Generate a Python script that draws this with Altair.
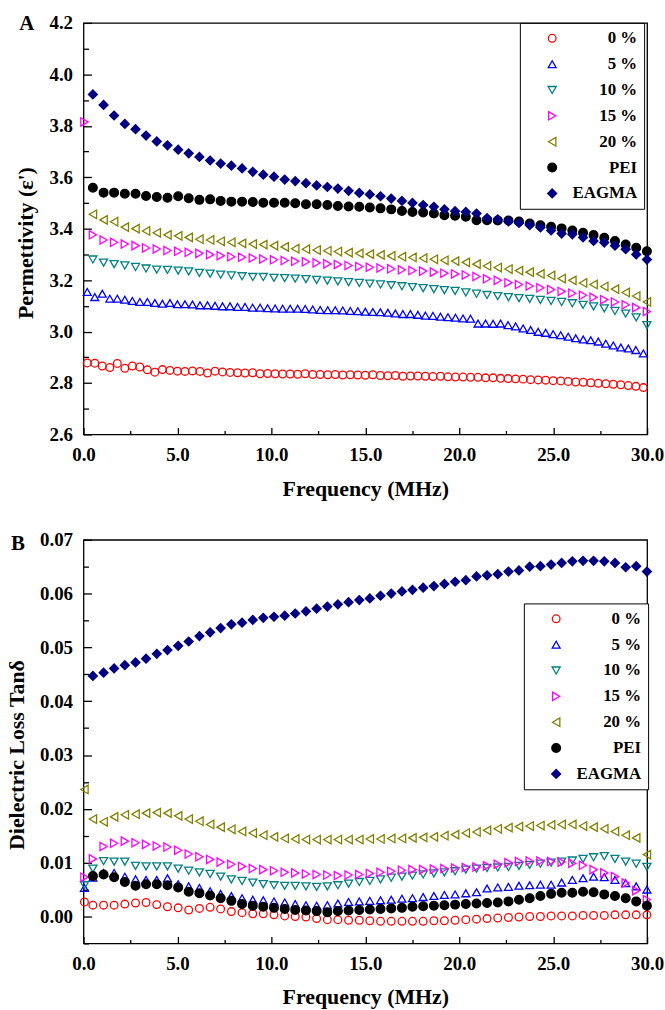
import altair as alt
import pandas as pd

SERIES = ["0 %", "5 %", "10 %", "15 %", "20 %", "PEI", "EAGMA"]
COLORS = ["#FF0000", "#0000FF", "#008080", "#FF00FF", "#808000", "#000000", "#000080"]
FILLS = ["transparent", "transparent", "transparent", "transparent", "transparent", "#000000", "#000080"]
SHAPES = ["circle", "triangle-up", "triangle-down", "triangle-right", "triangle-left", "circle", "diamond"]
SIZES = [60, 80, 90, 80, 80, 70, 95]

X_MAIN = [0.50, 1.07, 1.63, 2.20, 2.77, 3.33, 3.90, 4.47, 5.04, 5.60, 6.17, 6.74, 7.30, 7.87,
          8.44, 9.01, 9.57, 10.14, 10.71, 11.27, 11.84, 12.41, 12.98, 13.54, 14.11, 14.68,
          15.24, 15.81, 16.38, 16.95, 17.51, 18.08, 18.65, 19.21, 19.78, 20.35, 20.92, 21.48,
          22.05, 22.62, 23.18, 23.75, 24.32, 24.89, 25.45, 26.02, 26.59, 27.15, 27.72, 28.29,
          28.86, 29.42, 29.99]
X_DENSE = [0.2, 0.6, 1.0, 1.4, 1.8, 2.2, 2.6, 3.0, 3.4, 3.8, 4.2, 4.6, 5.0, 5.4, 5.8, 6.2, 6.6,
           7.0, 7.4, 7.8, 8.2, 8.6, 9.0, 9.4, 9.8, 10.2, 10.6, 11.0, 11.4, 11.8, 12.2, 12.6,
           13.0, 13.4, 13.8, 14.2, 14.6, 15.0, 15.4, 15.8, 16.2, 16.6, 17.0, 17.4, 17.8, 18.2,
           18.6, 19.0, 19.4, 19.8, 20.2, 20.6, 21.0, 21.4, 21.8, 22.2, 22.6, 23.0, 23.4, 23.8,
           24.2, 24.6, 25.0, 25.4, 25.8, 26.2, 26.6, 27.0, 27.4, 27.8, 28.2, 28.6, 29.0, 29.4, 29.8]
EDGE_X = 0.05

# Panel A: permittivity
A_0 = [2.878, 2.877, 2.866, 2.860, 2.876, 2.857, 2.866, 2.862, 2.851, 2.842,
       2.852, 2.849, 2.846, 2.845, 2.847, 2.845, 2.839, 2.846, 2.843, 2.841,
       2.840, 2.839, 2.840, 2.836, 2.837, 2.836, 2.835, 2.835, 2.834, 2.836,
       2.833, 2.833, 2.832, 2.833, 2.831, 2.832, 2.831, 2.830, 2.832, 2.829,
       2.828, 2.829, 2.826, 2.827, 2.827, 2.826, 2.825, 2.826, 2.824, 2.823,
       2.823, 2.822, 2.822, 2.820, 2.820, 2.818, 2.817, 2.816, 2.815, 2.813,
       2.812, 2.811, 2.809, 2.808, 2.806, 2.804, 2.803, 2.801, 2.799, 2.797,
       2.795, 2.793, 2.790, 2.787, 2.782]
A_5 = [3.154, 3.134, 3.147, 3.128, 3.128, 3.124, 3.119, 3.115, 3.115, 3.111,
       3.108, 3.111, 3.106, 3.106, 3.105, 3.102, 3.102, 3.100, 3.098, 3.098,
       3.096, 3.096, 3.093, 3.093, 3.091, 3.090, 3.089, 3.089, 3.089, 3.088,
       3.086, 3.084, 3.083, 3.083, 3.082, 3.080, 3.079, 3.077, 3.076, 3.075,
       3.073, 3.070, 3.068, 3.068, 3.065, 3.062, 3.061, 3.058, 3.056, 3.054,
       3.051, 3.050, 3.031, 3.031, 3.030, 3.031, 3.025, 3.020, 3.012, 3.006,
       2.999, 2.995, 2.990, 2.986, 2.980, 2.974, 2.969, 2.966, 2.961, 2.953,
       2.946, 2.938, 2.934, 2.928, 2.915]
A_10 = [3.280, 3.268, 3.262, 3.257, 3.251, 3.245, 3.241, 3.240, 3.237, 3.234,
        3.228, 3.225, 3.221, 3.218, 3.215, 3.212, 3.212, 3.209, 3.208, 3.206,
        3.204, 3.201, 3.198, 3.195, 3.192, 3.189, 3.186, 3.183, 3.180, 3.176,
        3.173, 3.169, 3.165, 3.161, 3.158, 3.152, 3.147, 3.142, 3.138, 3.134,
        3.130, 3.127, 3.123, 3.119, 3.115, 3.110, 3.104, 3.098, 3.090, 3.080,
        3.070, 3.055, 3.025]
A_15 = [3.376, 3.356, 3.347, 3.340, 3.334, 3.325, 3.321, 3.315, 3.312, 3.308,
        3.304, 3.299, 3.295, 3.291, 3.289, 3.286, 3.282, 3.279, 3.276, 3.273,
        3.271, 3.267, 3.263, 3.261, 3.257, 3.253, 3.250, 3.247, 3.244, 3.240,
        3.237, 3.235, 3.231, 3.227, 3.224, 3.220, 3.214, 3.205, 3.199, 3.190,
        3.183, 3.177, 3.170, 3.163, 3.156, 3.149, 3.141, 3.133, 3.124, 3.115,
        3.104, 3.093, 3.078]
A_20 = [3.456, 3.434, 3.427, 3.406, 3.400, 3.391, 3.384, 3.376, 3.372, 3.366,
        3.359, 3.356, 3.351, 3.347, 3.343, 3.340, 3.338, 3.334, 3.329, 3.322,
        3.320, 3.317, 3.314, 3.311, 3.307, 3.304, 3.301, 3.298, 3.294, 3.291,
        3.288, 3.285, 3.281, 3.277, 3.274, 3.269, 3.262, 3.255, 3.249, 3.243,
        3.237, 3.231, 3.224, 3.218, 3.206, 3.199, 3.189, 3.183, 3.175, 3.165,
        3.152, 3.138, 3.115]
A_PEI = [3.559, 3.540, 3.540, 3.536, 3.536, 3.527, 3.523, 3.520, 3.526, 3.518,
         3.512, 3.514, 3.508, 3.505, 3.505, 3.504, 3.501, 3.501, 3.501, 3.499,
         3.495, 3.495, 3.492, 3.488, 3.486, 3.485, 3.482, 3.479, 3.475, 3.469,
         3.465, 3.463, 3.459, 3.452, 3.450, 3.446, 3.433, 3.433, 3.432, 3.432,
         3.428, 3.420, 3.413, 3.407, 3.401, 3.393, 3.384, 3.375, 3.365, 3.352,
         3.338, 3.326, 3.312]
A_EAGMA = [3.922, 3.881, 3.840, 3.807, 3.787, 3.762, 3.739, 3.724, 3.707, 3.693,
           3.679, 3.665, 3.653, 3.645, 3.634, 3.621, 3.610, 3.602, 3.591, 3.585,
           3.577, 3.568, 3.562, 3.556, 3.547, 3.539, 3.533, 3.526, 3.517, 3.508,
           3.500, 3.492, 3.485, 3.475, 3.468, 3.465, 3.459, 3.441, 3.436, 3.428,
           3.422, 3.414, 3.405, 3.393, 3.381, 3.378, 3.366, 3.352, 3.346, 3.334,
           3.320, 3.300, 3.280]
A_EDGE = {"15 %": 3.815}

# Panel B: dielectric loss tan(delta)
B_0 = [0.0021, 0.0021, 0.0021, 0.0023, 0.0025, 0.0026, 0.0022, 0.0018, 0.0016, 0.0012,
       0.0015, 0.0017, 0.0014, 0.0009, 0.0007, 0.0005, 0.0005, 0.0003, 0.0001, 0.0000,
       -0.0001, -0.0004, -0.0006, -0.0006, -0.0007, -0.0007, -0.0008, -0.0009, -0.0009, -0.0009,
       -0.0009, -0.0009, -0.0008, -0.0008, -0.0007, -0.0006, -0.0005, -0.0004, -0.0003, -0.0002,
       -0.0001, 0.0000, 0.0000, 0.0001, 0.0001, 0.0001, 0.0002, 0.0002, 0.0002, 0.0003,
       0.0003, 0.0003, 0.0003]
B_5 = [0.0072, 0.0081, 0.0081, 0.0074, 0.0069, 0.0068, 0.0068, 0.0071, 0.0060, 0.0056,
       0.0053, 0.0047, 0.0042, 0.0038, 0.0034, 0.0031, 0.0030, 0.0028, 0.0026, 0.0023,
       0.0021, 0.0020, 0.0021, 0.0024, 0.0027, 0.0028, 0.0029, 0.0030, 0.0031, 0.0033,
       0.0034, 0.0036, 0.0038, 0.0040, 0.0041, 0.0043, 0.0045, 0.0052, 0.0054, 0.0055,
       0.0057, 0.0058, 0.0059, 0.0059, 0.0063, 0.0068, 0.0071, 0.0074, 0.0073, 0.0068,
       0.0062, 0.0056, 0.0050]
B_10 = [0.0089, 0.0103, 0.0102, 0.0102, 0.0094, 0.0093, 0.0093, 0.0093, 0.0089, 0.0085,
        0.0082, 0.0079, 0.0074, 0.0069, 0.0066, 0.0063, 0.0060, 0.0058, 0.0057, 0.0057,
        0.0056, 0.0055, 0.0056, 0.0058, 0.0061, 0.0064, 0.0066, 0.0069, 0.0072, 0.0074,
        0.0076, 0.0078, 0.0080, 0.0082, 0.0084, 0.0087, 0.0089, 0.0090, 0.0091, 0.0092,
        0.0094, 0.0096, 0.0098, 0.0100, 0.0102, 0.0104, 0.0107, 0.0110, 0.0112, 0.0107,
        0.0102, 0.0098, 0.0092]
B_15 = [0.0107, 0.0130, 0.0136, 0.0140, 0.0137, 0.0134, 0.0131, 0.0129, 0.0123, 0.0116,
        0.0111, 0.0106, 0.0101, 0.0097, 0.0093, 0.0089, 0.0087, 0.0085, 0.0082, 0.0081,
        0.0079, 0.0078, 0.0077, 0.0076, 0.0077, 0.0078, 0.0080, 0.0082, 0.0084, 0.0086,
        0.0087, 0.0087, 0.0088, 0.0089, 0.0090, 0.0091, 0.0092, 0.0094, 0.0097, 0.0100,
        0.0102, 0.0103, 0.0103, 0.0102, 0.0101, 0.0099, 0.0095, 0.0087, 0.0081, 0.0074,
        0.0062, 0.0048, 0.0031]
B_20 = [0.0181, 0.0176, 0.0185, 0.0189, 0.0190, 0.0192, 0.0193, 0.0192, 0.0187, 0.0181,
        0.0177, 0.0171, 0.0166, 0.0162, 0.0158, 0.0155, 0.0151, 0.0148, 0.0145, 0.0144,
        0.0143, 0.0143, 0.0143, 0.0143, 0.0143, 0.0143, 0.0144, 0.0144, 0.0145, 0.0145,
        0.0146, 0.0147, 0.0148, 0.0150, 0.0152, 0.0155, 0.0157, 0.0160, 0.0163, 0.0165,
        0.0167, 0.0168, 0.0169, 0.0170, 0.0171, 0.0171, 0.0168, 0.0166, 0.0163, 0.0158,
        0.0151, 0.0146, 0.0115]
B_PEI = [0.0075, 0.0078, 0.0073, 0.0064, 0.0057, 0.0060, 0.0060, 0.0058, 0.0054, 0.0046,
         0.0043, 0.0039, 0.0034, 0.0029, 0.0023, 0.0020, 0.0018, 0.0016, 0.0014, 0.0012,
         0.0011, 0.0010, 0.0008, 0.0010, 0.0011, 0.0012, 0.0013, 0.0014, 0.0015, 0.0016,
         0.0018, 0.0019, 0.0020, 0.0021, 0.0022, 0.0023, 0.0024, 0.0025, 0.0026, 0.0028,
         0.0031, 0.0034, 0.0038, 0.0042, 0.0044, 0.0044, 0.0046, 0.0045, 0.0041, 0.0038,
         0.0034, 0.0028, 0.0020]
B_EAGMA = [0.0447, 0.0453, 0.0461, 0.0467, 0.0472, 0.0479, 0.0488, 0.0495, 0.0503, 0.0511,
           0.0521, 0.0528, 0.0536, 0.0543, 0.0546, 0.0551, 0.0555, 0.0557, 0.0559, 0.0563,
           0.0567, 0.0572, 0.0576, 0.0580, 0.0584, 0.0588, 0.0591, 0.0596, 0.0600, 0.0604,
           0.0607, 0.0611, 0.0614, 0.0618, 0.0622, 0.0625, 0.0632, 0.0634, 0.0636, 0.0641,
           0.0643, 0.0650, 0.0651, 0.0654, 0.0657, 0.0660, 0.0661, 0.0661, 0.0660, 0.0657,
           0.0649, 0.0651, 0.0641]
B_EDGE = {"0 %": 0.0027, "5 %": 0.0053, "10 %": 0.0058, "15 %": 0.0073, "20 %": 0.0236}

X_TICKS = [0, 5, 10, 15, 20, 25, 30]
X_MINOR = [2.5, 7.5, 12.5, 17.5, 22.5, 27.5]
YA_TICKS = [2.6, 2.8, 3.0, 3.2, 3.4, 3.6, 3.8, 4.0, 4.2]
YA_MINOR = [2.7, 2.9, 3.1, 3.3, 3.5, 3.7, 3.9, 4.1]
YB_TICKS = [0.0, 0.01, 0.02, 0.03, 0.04, 0.05, 0.06, 0.07]
YB_MINOR = [-0.005, 0.005, 0.015, 0.025, 0.035, 0.045, 0.055, 0.065]

FONT = "Liberation Serif"
W = 567

X_MAJOR_TEST = "round(datum.value * 10) % 50 == 0"
YA_MAJOR_TEST = "round(datum.value * 100) % 20 == 0"
YB_MAJOR_TEST = "round(datum.value * 1000) % 10 == 0"


def build(series, edge):
    rows = []
    for name in SERIES:
        xs, ys = series[name]
        assert len(xs) == len(ys), (name, len(xs), len(ys))
        if name in edge:
            rows.append({"f": EDGE_X, "v": edge[name], "s": name})
        rows += [{"f": x, "v": y, "s": name} for x, y in zip(xs, ys)]
    return pd.DataFrame(rows)


dfA = build({"0 %": (X_DENSE, A_0), "5 %": (X_DENSE, A_5), "10 %": (X_MAIN, A_10),
             "15 %": (X_MAIN, A_15), "20 %": (X_MAIN, A_20), "PEI": (X_MAIN, A_PEI),
             "EAGMA": (X_MAIN, A_EAGMA)}, A_EDGE)
dfB = build({"0 %": (X_MAIN, B_0), "5 %": (X_MAIN, B_5), "10 %": (X_MAIN, B_10),
             "15 %": (X_MAIN, B_15), "20 %": (X_MAIN, B_20), "PEI": (X_MAIN, B_PEI),
             "EAGMA": (X_MAIN, B_EAGMA)}, B_EDGE)


def panel(df, ydom, ymaj, ymin, ytest, yfmt, ytitle, title_x, title_y, letter, letter_x,
          letter_y, leg_x, leg_y, h, xtitle_y):
    xs = alt.Scale(domain=[0, 30], nice=False, zero=False, padding=0)
    ys = alt.Scale(domain=ydom, nice=False, zero=False, padding=0)
    xax = alt.Axis(values=sorted(X_TICKS + X_MINOR), format=".1f",
                   labelExpr=X_MAJOR_TEST + " ? datum.label : ''",
                   title="Frequency (MHz)", titleY=xtitle_y, titleBaseline="middle",
                   labelOverlap=False, labelFlush=False, ticks=True, tickColor="black",
                   tickWidth=1.3, labelPadding=18,
                   tickSize={"condition": {"test": X_MAJOR_TEST, "value": -7}, "value": -4})
    yax = alt.Axis(values=sorted(ymaj + ymin), format=yfmt,
                   labelExpr=ytest + " ? datum.label : ''",
                   title=ytitle, titleX=title_x, titleY=title_y, titleAngle=270,
                   titleBaseline="middle", titleAlign="center", labelOverlap=False,
                   labelFlush=False, ticks=True, tickColor="black", tickWidth=1.3,
                   labelPadding=19,
                   tickSize={"condition": {"test": ytest, "value": -8}, "value": -5})
    leg = alt.Legend(orient="none", legendX=leg_x, legendY=leg_y, title=None,
                     padding=7, strokeColor="black", fillColor="white",
                     symbolOffset=17, symbolStrokeWidth=1.3,
                     labelAlign="right", labelOffset=77, labelFont=FONT,
                     labelFontSize=17, labelFontWeight="bold", labelColor="black",
                     rowPadding=8)
    pts = alt.Chart(df).mark_point(opacity=1, strokeWidth=1.3).encode(
        x=alt.X("f:Q", scale=xs, axis=xax, title="Frequency (MHz)"),
        y=alt.Y("v:Q", scale=ys, axis=yax, title=ytitle),
        shape=alt.Shape("s:N", scale=alt.Scale(domain=SERIES, range=SHAPES), legend=leg),
        stroke=alt.Stroke("s:N", scale=alt.Scale(domain=SERIES, range=COLORS), legend=leg),
        fill=alt.Fill("s:N", scale=alt.Scale(domain=SERIES, range=FILLS), legend=leg),
        size=alt.Size("s:N", scale=alt.Scale(domain=SERIES, range=SIZES), legend=leg),
    )
    lab = alt.Chart(pd.DataFrame({"t": [letter]})).mark_text(
        font=FONT, fontSize=21, fontWeight="bold", color="black", align="center",
        baseline="middle").encode(text="t:N", x=alt.value(letter_x), y=alt.value(letter_y))
    return alt.layer(pts, lab).properties(width=W, height=h)


pA = panel(dfA, [2.6, 4.2], YA_TICKS, YA_MINOR, YA_MAJOR_TEST, ".1f", "Permettivity (\u03b5')",
           -58, 221, "A", -57, 1, 439, 0, 414, 54)
pB = panel(dfB, [-0.005, 0.07], YB_TICKS, YB_MINOR, YB_MAJOR_TEST, ".2f",
           "Dielectric Loss Tan\u03b4", -67, 216, "B", -66, 4, 443, 64, 406, 53)

chart = alt.vconcat(pA, pB, spacing=30).resolve_scale(
    x="independent", y="independent", shape="independent", stroke="independent",
    fill="independent", size="independent"
).configure_view(
    stroke="black", strokeWidth=1.3
).configure_axis(
    labelFont=FONT, labelFontSize=19, labelFontWeight="bold", labelColor="black",
    titleFont=FONT, titleFontSize=22, titleFontWeight="bold", titleColor="black",
    domain=False, grid=False
).properties(
    padding={"left": 5, "top": 9, "right": 0, "bottom": 0}, background="white"
)

chart.save("out.html", embed_options={"renderer": "svg", "actions": False})
